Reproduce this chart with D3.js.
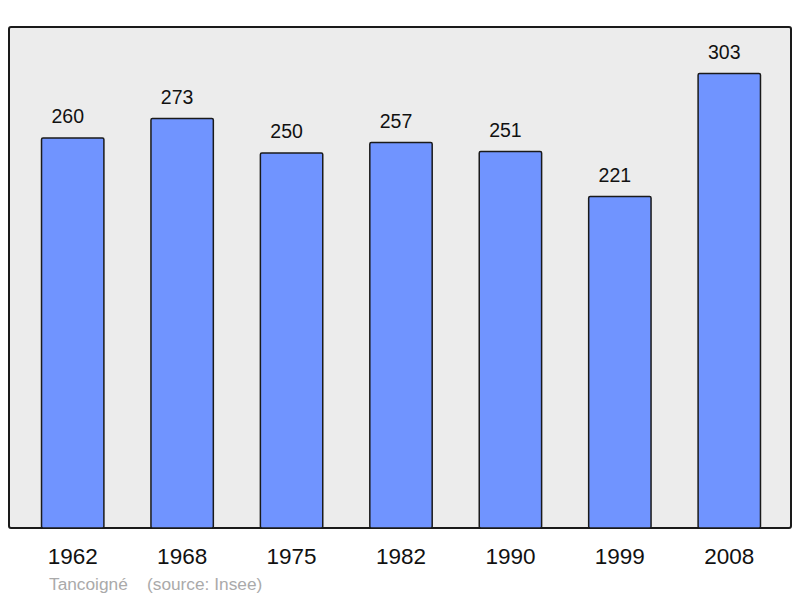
<!DOCTYPE html>
<html>
<head>
<meta charset="utf-8">
<script src="https://cdn.jsdelivr.net/npm/d3@7"></script>
<style>
  body { margin: 0; background: #fff; }
  svg { font-family: "Liberation Sans", Arial, sans-serif; }
</style>
</head>
<body>
<svg id="chart" width="800" height="598"></svg>
<script>
const years = ["1962", "1968", "1975", "1982", "1990", "1999", "2008"];
const population = [260, 273, 250, 257, 251, 221, 303];
const commune = "Tancoigné";
const source = "(source: Insee)";

const svg = d3.select("#chart");

// cadre du graphique
const box = { left: 9, top: 27, right: 791, bottom: 528 };

svg.append("rect")
  .attr("x", box.left)
  .attr("y", box.top)
  .attr("width", box.right - box.left)
  .attr("height", box.bottom - box.top)
  .attr("rx", 2)
  .attr("fill", "#ececec")
  .attr("stroke", "#1a1a1a")
  .attr("stroke-width", 2);

const x = d3.scaleBand()
  .domain(years)
  .range([18, 784])
  .paddingInner(0.43)
  .paddingOuter(0.215);

const y = d3.scaleLinear()
  .domain([0, 334])
  .range([box.bottom, box.top]);

const data = years.map((yr, i) => ({ year: yr, value: population[i] }));

svg.selectAll(".bar")
  .data(data)
  .enter()
  .append("rect")
  .attr("class", "bar")
  .attr("x", d => x(d.year))
  .attr("y", d => y(d.value))
  .attr("width", x.bandwidth())
  .attr("height", d => y(0) - y(d.value))
  .attr("rx", 1.5)
  .attr("fill", "#7094ff")
  .attr("stroke", "#1a1a1a")
  .attr("stroke-width", 1.5);

// étiquettes de valeur, un peu décalées vers la gauche comme dans l'original
svg.selectAll(".val")
  .data(data)
  .enter()
  .append("text")
  .attr("class", "val")
  .attr("x", d => x(d.year) + x.bandwidth() / 2 - 5)
  .attr("y", d => y(d.value) - 15)
  .attr("text-anchor", "middle")
  .attr("font-size", 19.5)
  .attr("fill", "#111")
  .text(d => d.value);

// axe des années (sans ligne ni graduations)
const xAxis = svg.append("g")
  .attr("transform", `translate(0,${box.bottom})`)
  .call(d3.axisBottom(x).tickSize(0).tickPadding(0));
xAxis.select(".domain").remove();
xAxis.selectAll("text")
  .attr("dy", null)
  .attr("y", 36)
  .attr("font-size", 22.5)
  .attr("font-family", "Liberation Sans, Arial, sans-serif")
  .attr("fill", "#111");

svg.append("text")
  .attr("x", 49)
  .attr("y", 590)
  .attr("font-size", 17.3)
  .attr("fill", "#aaa")
  .attr("xml:space", "preserve")
  .text(commune + "    " + source);
</script>
</body>
</html>
